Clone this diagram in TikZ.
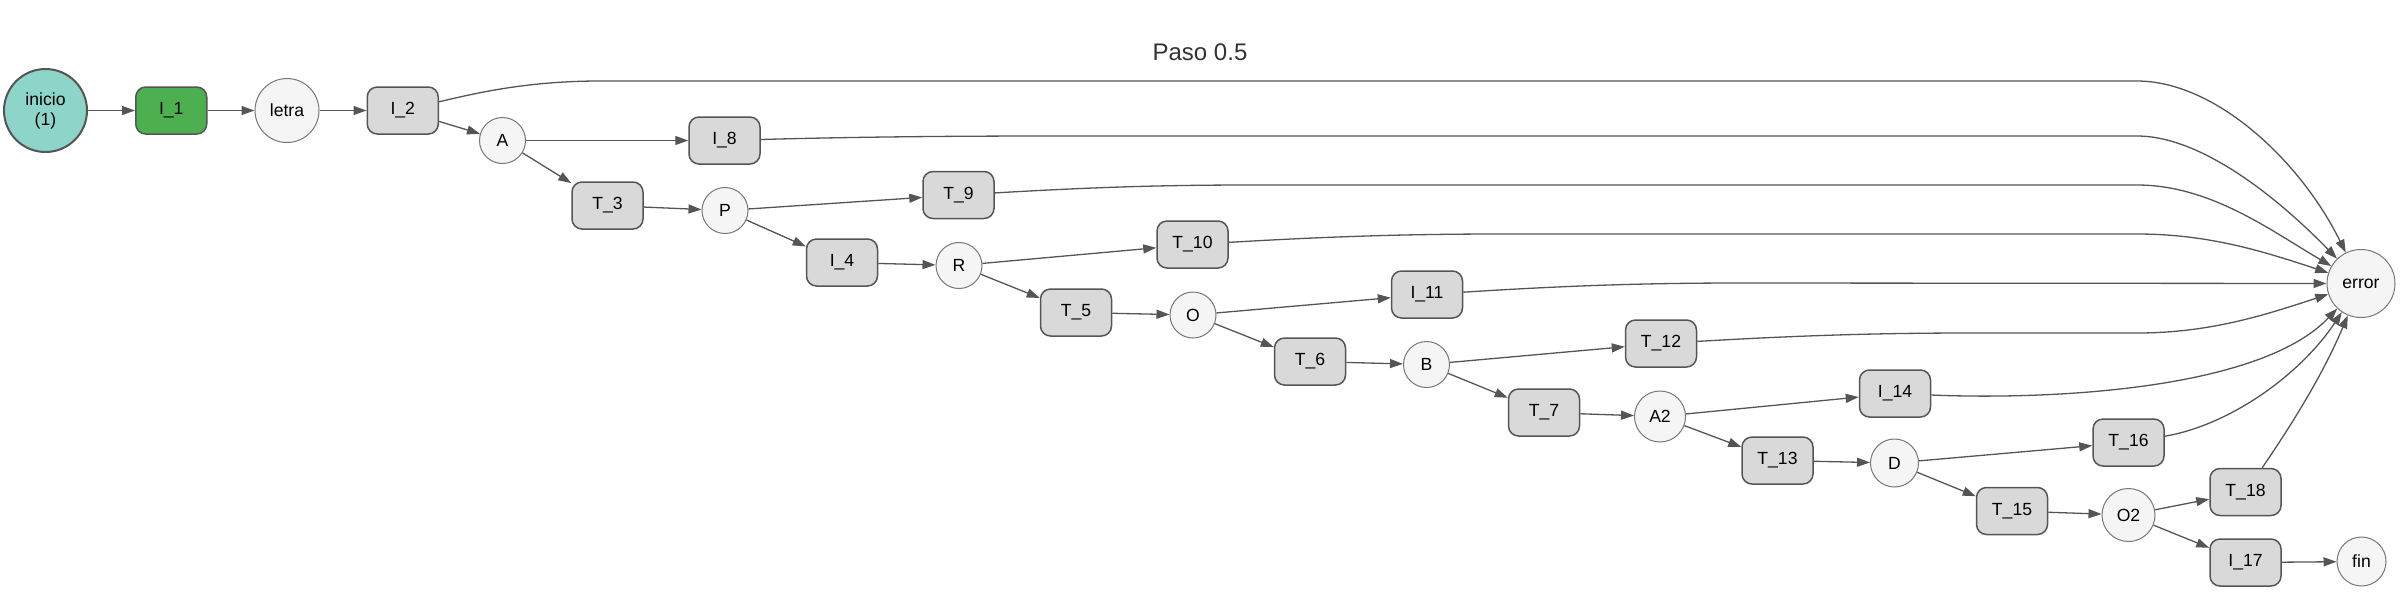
\documentclass[tikz,border=0pt]{standalone}
\usepackage{fontspec}
\setmainfont{Liberation Sans}
\usetikzlibrary{arrows.meta, positioning}
\definecolor{edgegray}{HTML}{555555}
\definecolor{rimgray}{HTML}{777777}
\definecolor{boxgray}{HTML}{D9D9D9}
\definecolor{stategray}{HTML}{F5F5F5}
\definecolor{startteal}{HTML}{8ED5C9}
\definecolor{firstgreen}{HTML}{4CAF50}
\tikzset{
  box/.style={rectangle,draw=edgegray,line width=0.75pt,fill=boxgray,rounded corners=5pt,minimum width=35.5pt,minimum height=23.5pt,inner sep=1pt,font=\fontsize{8.8}{10}\selectfont},
  state/.style={circle,draw=rimgray,line width=0.5pt,fill=stategray,minimum size=23pt,inner sep=0pt,font=\fontsize{8.8}{10}\selectfont},
  startstate/.style={state,draw=edgegray,line width=1pt,fill=startteal,minimum size=41.5pt,align=center},
  line/.style={draw=edgegray,line width=0.65pt,-{Triangle[length=6.5pt,width=4.5pt]}}
}

\begin{document}
\begin{tikzpicture}[x=0.5pt,y=-0.5pt,node distance=23.5pt]
\useasboundingbox (0,0) rectangle (2400,591);
\node[font=\fontsize{12}{14}\selectfont,text=black!80] (title) at (1200,52) {Paso 0.5};
% main chain
\node[startstate] (inicio) at (45.5,110.5) {inicio\\(1)};
\node[box, fill=firstgreen, right=of inicio] (i1) {I\_1};
\node[state, minimum size=32pt, right=of i1] (letra) {letra};
\node[box, right=of letra] (i2) {I\_2};
\node[state] (a) at (502.5,140.5) {A};
\node[box] (i8) at (724.5,140.5) {I\_8};
\node[box] (t3) at (607.5,205.5) {T\_3};
\node[state] (p) at (725,210.5) {P};
\node[box] (t9) at (958.5,195) {T\_9};
\node[box] (i4) at (842,262.5) {I\_4};
\node[state] (r) at (959,265.5) {R};
\node[box] (t10) at (1192.5,244.5) {T\_10};
\node[box] (t5) at (1076,312.5) {T\_5};
\node[state] (o) at (1193,315) {O};
\node[box] (i11) at (1427,294.5) {I\_11};
\node[box] (t6) at (1310,361.5) {T\_6};
\node[state] (b) at (1426.5,364.5) {B};
\node[box] (t12) at (1661,343.5) {T\_12};
\node[box] (t7) at (1544,412.5) {T\_7};
\node[state, minimum size=25.5pt] (a2) at (1660,416.5) {A2};
\node[box] (i14) at (1895,393.5) {I\_14};
\node[box] (t13) at (1777.5,460.5) {T\_13};
\node[state, minimum size=24pt] (d) at (1894.5,463) {D};
\node[box] (t16) at (2128.5,442.5) {T\_16};
\node[box] (t15) at (2012,511) {T\_15};
\node[state, minimum size=26.5pt] (o2) at (2128.5,515) {O2};
\node[box] (t18) at (2245.5,492) {T\_18};
\node[box] (i17) at (2245.5,562.5) {I\_17};
\node[state, minimum size=24.5pt] (fin) at (2361.5,561.5) {fin};
\node[state, minimum size=34pt] (error) at (2361,283.5) {error};
% transitions
\draw[line] (inicio) -- (i1);
\draw[line] (i1) -- (letra);
\draw[line] (letra) -- (i2);
\draw[line] (i2) -- (a);
\draw[line] (a) -- (i8);
\draw[line] (a) -- (t3);
\draw[line] (t3) -- (p);
\draw[line] (p) -- (t9);
\draw[line] (p) -- (i4);
\draw[line] (i4) -- (r);
\draw[line] (r) -- (t10);
\draw[line] (r) -- (t5);
\draw[line] (t5) -- (o);
\draw[line] (o) -- (i11);
\draw[line] (o) -- (t6);
\draw[line] (t6) -- (b);
\draw[line] (b) -- (t12);
\draw[line] (b) -- (t7);
\draw[line] (t7) -- (a2);
\draw[line] (a2) -- (i14);
\draw[line] (a2) -- (t13);
\draw[line] (t13) -- (d);
\draw[line] (d) -- (t16);
\draw[line] (d) -- (t15);
\draw[line] (t15) -- (o2);
\draw[line] (o2) -- (t18);
\draw[line] (o2) -- (i17);
\draw[line] (i17) -- (fin);
% into error
\draw[line] (i2) .. controls (480,92) and (530,81) .. (600,81) -- (2137,81) .. controls (2215,81) and (2300,160) .. (error);
\draw[line] (i8) .. controls (850,137) and (950,136) .. (1050,136) -- (2137,136) .. controls (2205,136) and (2285,205) .. (error);
\draw[line] (t9) .. controls (1080,188) and (1150,185) .. (1250,185) -- (2137,185) .. controls (2210,185) and (2270,230) .. (error);
\draw[line] (t10) .. controls (1320,237) and (1400,234) .. (1500,234) -- (2137,234) .. controls (2210,234) and (2265,252) .. (error);
\draw[line] (i11) .. controls (1560,286) and (1640,283) .. (1740,283) -- (error);
\draw[line] (t12) .. controls (1790,336) and (1870,333) .. (1970,333) -- (2137,333) .. controls (2210,333) and (2265,315) .. (error);
\draw[line] (i14) .. controls (2050,400) and (2260,390) .. (error);
\draw[line] (t16) .. controls (2230,425) and (2300,375) .. (error);
\draw[line] (t18) .. controls (2295,420) and (2325,370) .. (error);
\end{tikzpicture}
\end{document}
